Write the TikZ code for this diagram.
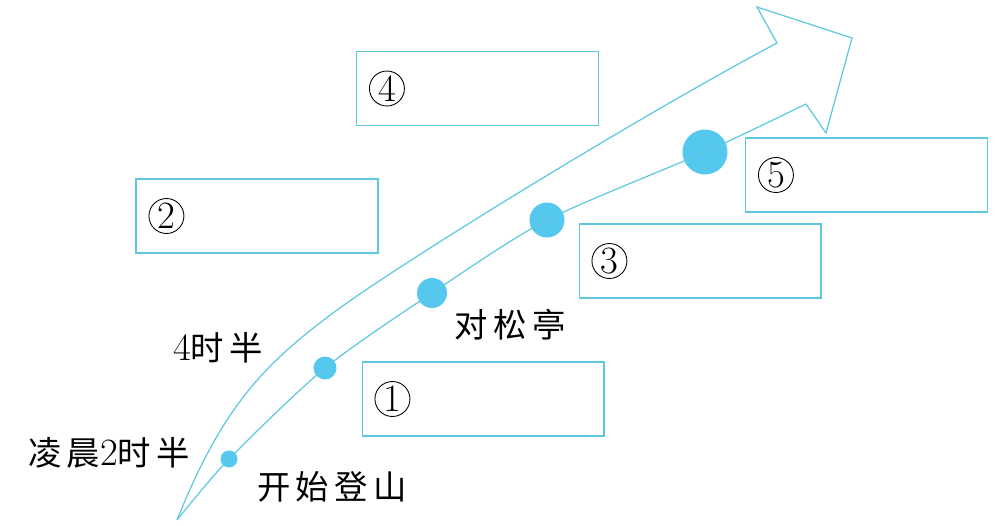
\documentclass[tikz,border=0pt]{standalone}
\usepackage{fontspec}
\usepackage{tikz}
\usetikzlibrary{positioning}
\newfontfamily\cjk[LetterSpace=16]{Noto Sans CJK SC}
\newcommand\dg[1]{{\fontsize{22}{22}\selectfont #1}}
\definecolor{sky}{RGB}{95,200,225}
\definecolor{spot}{RGB}{85,200,240}
\tikzstyle{slot} = [draw=sky,line width=0.6pt,rectangle,inner sep=0,minimum width=4.84cm,minimum height=1.48cm]
\tikzstyle{tag} = [draw,circle,line width=0.5pt,inner sep=0,minimum size=0.7cm,font=\fontsize{22}{22}\selectfont]
\tikzstyle{stop} = [circle,fill=spot,inner sep=0]
\tikzstyle{route} = [draw=sky,line width=0.7pt]
\tikzstyle{note} = [inner sep=0,font=\fontsize{19}{22}\selectfont]

\begin{document}
\begin{tikzpicture}[x=0.02cm,y=-0.02cm]
      \useasboundingbox (0,0) rectangle (1001,525);
      % stops along the way
      \node[stop,minimum size=0.34cm] (d1) at (229,459) {};
      \node[stop,minimum size=0.46cm] (d2) at (325,368) {};
      \node[stop,minimum size=0.6cm] (d3) at (432,293) {};
      \node[stop,minimum size=0.7cm] (d4) at (547,220) {};
      \node[stop,minimum size=0.9cm] (d5) at (705,152) {};
      \coordinate (tail) at (177,520);
      \coordinate (bend) at (333,313);
      \coordinate (neck) at (777,43);
      \coordinate (notch) at (806,104);
      % the big arrow
      \draw[route] (tail) .. controls (222,408) and (263,365) .. (bend)
                          .. controls (393,268) and (627,123) .. (neck)
                          -- (757,7) -- (852,38) -- (826,133) -- (notch);
      \draw[route] plot[smooth,tension=0.45] coordinates {(tail) (d1.center) (d2.center) (d3.center) (d4.center) (d5.center) (notch)};
      % boxes
      \node[slot] (b4) at (477.5,88.5) {};
      \node[slot] (b2) at (257,216) {};
      \node[slot] (b1) at (483,399) {};
      \node[slot] (b3) at (700,261) {};
      \node[slot] (b5) at (866.5,175) {};
      \node[tag,right=0.26cm of b4.west] (n4) {4};
      \node[tag,right=0.26cm of b2.west] (n2) {2};
      \node[tag,right=0.26cm of b1.west] (n1) {1};
      \node[tag,right=0.26cm of b3.west] (n3) {3};
      \node[tag,right=0.26cm of b5.west] (n5) {5};
      % times and places
      \node[note] (t1) at (109,453) {{\cjk 凌晨}\dg{2}{\cjk 时半}};
      \node[note] (t2) at (218,348) {\dg{4}{\cjk 时半}};
      \node[note] (p1) at (332,487) {\cjk 开始登山};
      \node[note] (p2) at (510,325) {\cjk 对松亭};
    \end{tikzpicture}
\end{document}
